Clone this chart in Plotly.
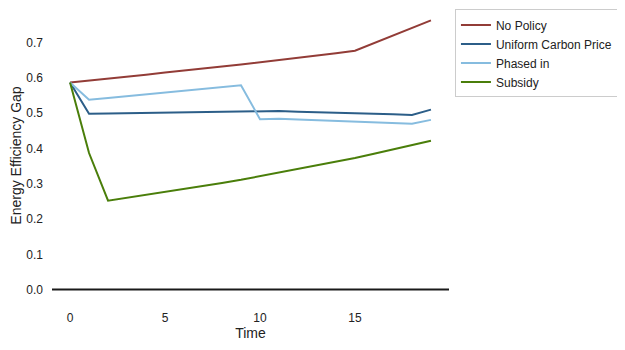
import plotly.graph_objects as go

# time steps
time = list(range(20))

no_policy = [0.587, 0.592, 0.598, 0.603, 0.609, 0.615, 0.620, 0.626, 0.632, 0.638,
             0.644, 0.650, 0.657, 0.663, 0.670, 0.677, 0.698, 0.720, 0.741, 0.763]
uniform_carbon = [0.587, 0.498, 0.499, 0.500, 0.501, 0.502, 0.503, 0.504, 0.505, 0.506,
                  0.507, 0.506, 0.504, 0.503, 0.501, 0.500, 0.498, 0.497, 0.495, 0.510]
phased_in = [0.587, 0.538, 0.543, 0.548, 0.553, 0.559, 0.564, 0.569, 0.574, 0.579,
             0.483, 0.484, 0.482, 0.480, 0.479, 0.477, 0.475, 0.473, 0.470, 0.481]
subsidy = [0.587, 0.387, 0.252, 0.260, 0.268, 0.276, 0.284, 0.293, 0.302, 0.311,
           0.321, 0.331, 0.341, 0.351, 0.362, 0.373, 0.385, 0.397, 0.409, 0.422]

series = [
    ("No Policy", no_policy, "#923c37"),
    ("Uniform Carbon Price", uniform_carbon, "#2c5e88"),
    ("Phased in", phased_in, "#86bcdf"),
    ("Subsidy", subsidy, "#4a7e0a"),
]

fig = go.Figure()

for name, vals, color in series:
    fig.add_trace(
        go.Scatter(x=time, y=vals, mode="lines", name=name,
                   line={"color": color, "width": 2})
    )

# zero line across the whole plot
fig.add_hline(y=0, line_width=2, line_color="#1a1a1a")

# page body has an 8px margin, so the figure is 8px smaller than the window
fig.update_layout(
    width=617,
    height=342,
    margin={"l": 44, "r": 176, "t": 0, "b": 47, "autoexpand": False},
    plot_bgcolor="white",
    paper_bgcolor="white",
    font={"family": "Liberation Sans, Arial, sans-serif", "size": 12, "color": "#222222"},
    showlegend=True,
    legend={
        "x": 1.015, "y": 0.995, "xanchor": "left", "yanchor": "top",
        "bordercolor": "#cccccc", "borderwidth": 1,
        "itemwidth": 30,
        "font": {"size": 12, "color": "#222222"},
    },
    xaxis={
        "title": {"text": "Time", "standoff": 2},
        "automargin": False,
        "range": [-0.95, 19.95],
        "tickvals": [0, 5, 10, 15],
        "showgrid": False, "zeroline": False, "showline": False,
        "ticks": "", "ticklabelstandoff": 6,
    },
    yaxis={
        "title": {"text": "Energy Efficiency Gap", "standoff": 4},
        "automargin": False,
        "range": [-0.038, 0.798],
        "tickvals": [0, 0.1, 0.2, 0.3, 0.4, 0.5, 0.6, 0.7],
        "tickformat": ".1f",
        "showgrid": False, "zeroline": False, "showline": False,
        "ticks": "", "ticklabelstandoff": 8,
    },
)

fig.write_html("out.html")
